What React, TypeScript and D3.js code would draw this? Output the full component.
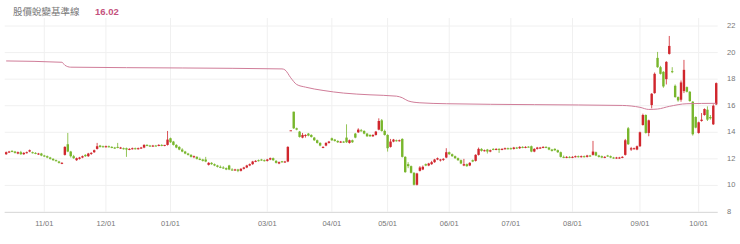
import React from "react";
import * as d3 from "d3";

const W = 740;
const H = 244;

// Month tick labels and the trading-day index where each month starts
const monthLabels = ["11/01", "12/01", "01/01", "03/01", "04/01", "05/01", "06/01", "07/01", "08/01", "09/01", "10/01"];
const monthIndex = [13, 34, 56, 89, 111, 130, 151, 172, 193, 216, 236];

const yTicks = [8, 10, 12, 14, 16, 18, 20, 22];

const openP = [
  12.35, 12.5, 12.6, 12.55, 12.4, 12.5, 12.35, 12.45, 12.55, 12.5, 12.45, 12.35, 12.4, 12.25, 12.2, 12.1, 12.0, 11.9, 11.8, 11.65,
  12.3, 13.1, 12.55, 12.2, 11.9, 12.0, 12.1, 12.3, 12.2, 12.4, 12.5, 12.75, 13.0, 12.95, 12.9, 12.95, 12.9, 12.85, 12.9, 12.8,
  12.8, 12.8, 12.7, 12.75, 12.8, 12.75, 12.8, 12.85, 13.05, 13.0, 12.95, 13.0, 13.0, 13.05, 13.0, 13.05, 13.55, 13.3, 13.05, 12.9,
  12.7, 12.55, 12.4, 12.3, 12.15, 12.15, 12.0, 11.95, 11.95, 11.55, 11.7, 11.6, 11.5, 11.4, 11.35, 11.3, 11.5, 11.2, 11.15, 11.2,
  11.1, 11.25, 11.35, 11.5, 11.6, 11.8, 11.9, 11.95, 11.9, 11.85, 11.95, 12.05, 11.85, 11.65, 11.82, 11.78, 11.8, 14.15, 15.55, 14.3,
  14.05, 13.6, 13.75, 13.9, 13.8, 13.6, 13.4, 13.2, 12.85, 13.0, 13.2, 13.55, 13.45, 13.35, 13.25, 13.3, 13.6, 13.2, 13.4, 13.9,
  14.0, 14.15, 14.1, 13.9, 13.8, 13.7, 13.8, 14.2, 14.9, 14.1, 13.8, 12.9, 13.3, 13.4, 13.35, 13.5, 12.15, 11.6, 11.45, 10.95,
  10.05, 11.1, 11.2, 11.6, 11.5, 11.6, 11.75, 11.95, 11.9, 11.95, 12.1, 12.5, 12.35, 12.2, 12.05, 11.9, 11.5, 11.6, 11.5, 11.9,
  11.85, 12.3, 12.75, 12.6, 12.7, 12.55, 12.75, 12.7, 12.75, 12.7, 12.75, 12.8, 12.8, 12.75, 12.85, 12.8, 12.9, 12.85, 12.92, 12.95,
  12.55, 12.75, 12.8, 12.85, 12.9, 12.85, 12.7, 12.75, 12.65, 12.5, 12.15, 12.1, 12.15, 12.1, 12.15, 12.2, 12.15, 12.2, 12.15, 12.25,
  12.3, 12.5, 12.25, 12.2, 12.1, 12.25, 12.2, 12.1, 12.05, 12.05, 12.1, 12.3, 14.3, 12.7, 12.75, 12.7, 12.95, 14.55, 15.3, 13.95,
  16.05, 16.95, 19.6, 18.9, 18.55, 18.0, 19.9, 18.6, 17.5, 16.65, 16.45, 17.1, 17.4, 17.05, 16.3, 15.15, 13.95, 14.85, 15.3, 15.7,
  15.15, 14.6, 16.1,
];
const highP = [
  12.55, 12.6, 12.65, 12.6, 12.55, 12.6, 12.5, 12.55, 12.7, 12.55, 12.5, 12.45, 12.45, 12.3, 12.25, 12.15, 12.05, 11.95, 11.85, 11.75,
  12.95, 13.95, 12.6, 12.3, 12.1, 12.15, 12.25, 12.35, 12.45, 12.5, 12.7, 13.2, 13.05, 13.0, 13.0, 13.0, 12.95, 12.9, 13.2, 12.9,
  12.85, 12.85, 12.8, 12.85, 12.85, 12.85, 12.9, 13.1, 13.1, 13.05, 13.05, 13.05, 13.1, 13.1, 13.05, 14.1, 13.6, 13.35, 13.1, 12.95,
  12.8, 12.6, 12.45, 12.35, 12.25, 12.2, 12.1, 12.0, 12.15, 11.75, 11.75, 11.65, 11.55, 11.5, 11.45, 11.35, 11.55, 11.3, 11.25, 11.25,
  11.3, 11.4, 11.55, 11.65, 11.85, 11.9, 11.95, 12.0, 11.95, 12.0, 12.1, 12.1, 11.9, 11.8, 11.85, 11.85, 12.95, 14.15, 15.55, 14.35,
  14.1, 13.95, 13.85, 13.95, 13.85, 13.65, 13.45, 13.25, 12.95, 13.25, 13.35, 13.6, 13.5, 13.4, 13.35, 13.35, 14.6, 13.45, 13.45, 13.95,
  14.3, 14.25, 14.15, 13.95, 13.85, 13.85, 14.1, 15.05, 15.0, 14.2, 13.85, 13.5, 13.5, 13.45, 13.45, 13.55, 12.2, 11.75, 11.5, 11.0,
  10.95, 11.45, 11.5, 11.65, 11.7, 11.85, 12.0, 12.1, 12.0, 12.05, 12.8, 12.55, 12.4, 12.25, 12.1, 11.95, 12.0, 11.65, 11.75, 11.95,
  12.35, 12.85, 12.8, 12.7, 12.75, 12.7, 12.8, 12.8, 12.8, 12.8, 12.85, 12.85, 12.85, 12.9, 12.9, 12.95, 12.95, 12.95, 12.95, 13.0,
  12.8, 12.9, 12.9, 12.95, 12.95, 12.9, 12.75, 12.8, 12.7, 12.55, 12.25, 12.2, 12.2, 12.2, 12.25, 12.25, 12.25, 12.25, 12.3, 12.3,
  13.35, 12.55, 12.3, 12.25, 12.2, 12.3, 12.25, 12.15, 12.15, 12.15, 12.2, 13.5, 14.4, 12.9, 12.85, 13.0, 14.05, 15.4, 15.35, 14.95,
  16.95, 18.5, 20.05, 19.0, 18.6, 19.35, 21.25, 18.9, 17.6, 16.7, 17.9, 19.45, 17.45, 17.1, 16.35, 15.2, 14.8, 15.45, 15.8, 15.95,
  15.3, 16.1, 17.75,
];
const lowP = [
  12.3, 12.45, 12.5, 12.4, 12.35, 12.3, 12.3, 12.4, 12.5, 12.4, 12.35, 12.3, 12.2, 12.15, 12.05, 11.95, 11.85, 11.8, 11.65, 11.6,
  12.25, 12.5, 12.1, 12.0, 11.85, 11.95, 12.05, 12.15, 12.15, 12.3, 12.45, 12.7, 12.85, 12.85, 12.85, 12.85, 12.8, 12.75, 12.8, 12.75,
  12.7, 12.15, 12.65, 12.7, 12.7, 12.7, 12.75, 12.8, 12.95, 12.9, 12.9, 12.95, 12.95, 12.95, 12.95, 13.0, 13.2, 13.0, 12.8, 12.65,
  12.5, 12.35, 12.25, 12.1, 12.05, 11.95, 11.9, 11.8, 11.75, 11.5, 11.55, 11.45, 11.35, 11.3, 11.25, 11.15, 11.15, 11.1, 11.1, 11.0,
  11.05, 11.2, 11.3, 11.45, 11.55, 11.75, 11.8, 11.85, 11.8, 11.8, 11.9, 11.85, 11.65, 11.6, 11.7, 11.7, 11.75, 14.15, 14.25, 14.15,
  13.6, 13.55, 13.6, 13.7, 13.6, 13.35, 13.15, 12.95, 12.8, 12.95, 13.15, 13.35, 13.3, 13.2, 13.2, 13.2, 13.2, 13.15, 13.2, 13.55,
  13.95, 14.05, 13.85, 13.65, 13.65, 13.65, 13.75, 14.15, 14.05, 13.75, 12.55, 12.85, 13.25, 13.3, 13.3, 12.1, 10.95, 11.3, 10.9, 10.0,
  10.0, 11.05, 11.15, 11.45, 11.45, 11.55, 11.7, 11.9, 11.8, 11.85, 12.05, 12.3, 12.15, 12.0, 11.85, 11.6, 11.45, 11.4, 11.45, 11.75,
  11.8, 12.25, 12.55, 12.55, 12.4, 12.5, 12.65, 12.65, 12.45, 12.65, 12.7, 12.7, 12.7, 12.7, 12.75, 12.75, 12.8, 12.8, 12.85, 12.5,
  12.5, 12.7, 12.75, 12.8, 12.8, 12.65, 12.55, 12.6, 12.45, 12.1, 12.05, 12.05, 12.05, 12.05, 12.1, 12.1, 12.1, 12.1, 12.1, 12.15,
  12.25, 12.2, 12.1, 12.05, 12.05, 12.15, 12.05, 12.0, 12.0, 12.0, 12.05, 12.25, 13.05, 12.6, 12.7, 12.65, 12.9, 14.5, 13.9, 13.7,
  15.8, 16.9, 18.85, 18.35, 17.35, 17.6, 19.85, 18.45, 16.6, 16.3, 16.3, 16.95, 17.0, 16.3, 13.75, 14.3, 13.9, 14.8, 15.25, 14.85,
  14.95, 14.55, 16.05,
];
const closeP = [
  12.5, 12.55, 12.55, 12.45, 12.5, 12.35, 12.45, 12.5, 12.65, 12.45, 12.4, 12.4, 12.25, 12.2, 12.1, 12.0, 11.9, 11.85, 11.7, 11.7,
  12.9, 12.55, 12.2, 12.05, 12.05, 12.1, 12.2, 12.2, 12.4, 12.45, 12.65, 12.95, 12.9, 12.9, 12.95, 12.9, 12.85, 12.8, 12.85, 12.85,
  12.75, 12.7, 12.75, 12.8, 12.75, 12.8, 12.85, 13.05, 13.0, 12.95, 13.0, 12.98, 13.05, 13.0, 13.05, 13.45, 13.25, 13.05, 12.85, 12.7,
  12.55, 12.4, 12.3, 12.15, 12.2, 12.0, 11.95, 11.85, 11.8, 11.7, 11.6, 11.5, 11.4, 11.35, 11.3, 11.2, 11.2, 11.15, 11.2, 11.1,
  11.25, 11.35, 11.5, 11.6, 11.8, 11.85, 11.85, 11.9, 11.85, 11.95, 12.05, 11.9, 11.7, 11.75, 11.78, 11.8, 12.9, 14.15, 14.3, 14.2,
  13.65, 13.8, 13.8, 13.75, 13.65, 13.4, 13.2, 13.0, 12.9, 13.2, 13.3, 13.4, 13.35, 13.25, 13.3, 13.25, 13.25, 13.4, 13.25, 13.6,
  14.2, 14.1, 13.9, 13.7, 13.7, 13.8, 14.05, 14.85, 14.1, 13.8, 12.8, 13.3, 13.45, 13.35, 13.4, 12.15, 11.0, 11.45, 10.95, 10.05,
  10.9, 11.35, 11.4, 11.5, 11.65, 11.75, 11.95, 12.05, 11.95, 12.0, 12.5, 12.35, 12.2, 12.05, 11.9, 11.65, 11.6, 11.45, 11.7, 11.8,
  12.3, 12.75, 12.6, 12.65, 12.55, 12.65, 12.7, 12.75, 12.7, 12.75, 12.8, 12.75, 12.75, 12.85, 12.8, 12.9, 12.85, 12.9, 12.9, 12.55,
  12.75, 12.85, 12.85, 12.9, 12.85, 12.7, 12.6, 12.65, 12.5, 12.15, 12.1, 12.15, 12.1, 12.15, 12.2, 12.15, 12.2, 12.15, 12.25, 12.2,
  12.55, 12.25, 12.15, 12.1, 12.15, 12.2, 12.1, 12.05, 12.1, 12.1, 12.15, 13.4, 13.1, 12.8, 12.8, 12.95, 14.0, 15.3, 13.95, 14.9,
  16.9, 18.4, 18.9, 18.4, 17.45, 19.3, 20.5, 18.55, 16.65, 16.4, 17.75, 18.7, 17.05, 16.35, 13.85, 14.35, 14.75, 14.95, 15.75, 14.95,
  15.05, 16.0, 17.7,
];

// Reference line ("股價蛻變基準線") read at selected trading-day indices
const refIndex = [0, 19, 20, 22, 60, 94, 95, 97, 99, 102, 108, 115, 124, 133, 135, 137, 141, 150, 180, 210, 216, 219, 222, 226, 232, 242];
const refValue = [19.37, 19.27, 19.05, 18.9, 18.84, 18.77, 18.7, 18.1, 17.6, 17.4, 17.15, 16.95, 16.82, 16.72, 16.6, 16.36, 16.22, 16.15, 16.08, 16.02, 15.88, 15.72, 15.75, 15.95, 16.15, 16.18];

const titleText = "股價蛻變基準線";
const titleValue = "16.02";

const UP = "#d0262d";
const DOWN = "#78b62c";
const REF = "#d07d99";

export default function App() {
  const n = closeP.length;
  const x = d3.scaleBand<number>().domain(d3.range(n)).range([4.7, 717.7]).padding(0);
  const y = d3.scaleLinear().domain([8, 22]).range([212, 26]);
  const bw = x.bandwidth();
  const cx = (i: number) => (x(i) as number) + bw / 2;
  const bodyW = 2.4;

  const refPts = refIndex.map((idx, k) => [cx(idx), y(refValue[k])] as [number, number]);
  const refPath = d3.line().curve(d3.curveMonotoneX)(refPts) || "";

  const font = "'Liberation Sans', Arial, 'Noto Sans CJK TC', sans-serif";

  return (
    <svg width={W} height={H} style={{ position: "absolute", left: 0, top: 0, background: "#fff" }}>
      {/* horizontal grid */}
      {yTicks.map((t) => (
        <line key={"h" + t} x1={4.7} x2={717.7} y1={y(t)} y2={y(t)} stroke="#f0f0f0" strokeWidth={1} />
      ))}
      {/* vertical grid */}
      {monthIndex.map((idx) => (
        <line key={"v" + idx} x1={cx(idx)} x2={cx(idx)} y1={18} y2={212} stroke="#f0f0f0" strokeWidth={1} />
      ))}
      {/* x axis line */}
      <line x1={4.7} x2={717.7} y1={212.5} y2={212.5} stroke="#dcdcdc" strokeWidth={1} />
      {/* x labels */}
      {monthIndex.map((idx, k) => (
        <text key={"xl" + idx} x={cx(idx)} y={224} textAnchor="middle" dominantBaseline="middle" fontSize={7.5} fill="#777" fontFamily={font}>
          {monthLabels[k]}
        </text>
      ))}
      {/* y labels */}
      {yTicks.map((t) => (
        <text key={"yl" + t} x={727} y={y(t)} dominantBaseline="middle" fontSize={7.5} fill="#777" fontFamily={font}>
          {t}
        </text>
      ))}
      {/* candles */}
      {closeP.map((c, i) => {
        const o = openP[i];
        const up = c >= o;
        const col = up ? UP : DOWN;
        const top = y(Math.max(o, c));
        const bot = y(Math.min(o, c));
        const h = Math.max(1, bot - top);
        return (
          <g key={"c" + i}>
            <line x1={cx(i)} x2={cx(i)} y1={y(highP[i])} y2={y(lowP[i])} stroke={col} strokeWidth={0.8} />
            <rect x={cx(i) - bodyW / 2} y={top} width={bodyW} height={h} fill={col} />
          </g>
        );
      })}
      {/* reference line */}
      <path d={refPath} fill="none" stroke={REF} strokeWidth={1} />
      {/* title */}
      <text x={13} y={12.5} dominantBaseline="middle" fontSize={9.5} fill="#777" fontFamily={font}>
        {titleText}
      </text>
      <text x={95} y={12.5} dominantBaseline="middle" fontSize={9.5} fill="#c4527d" fontWeight={600} fontFamily={font}>
        {titleValue}
      </text>
    </svg>
  );
}
